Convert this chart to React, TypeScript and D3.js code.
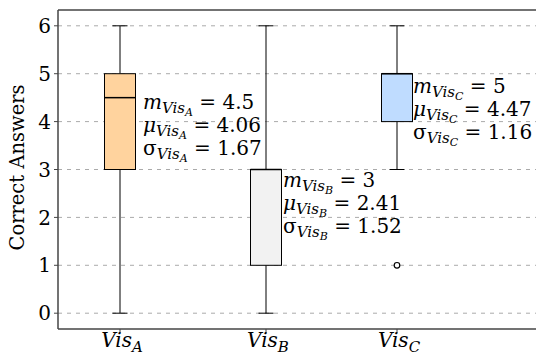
import React from "react";
import * as d3 from "d3";

const categories = ["A", "B", "C"];
const whiskerLow = [0, 0, 3];
const q1 = [3, 1, 4];
const medians = [4.5, 3, 5];
const q3 = [5, 3, 5];
const whiskerHigh = [6, 6, 6];
const means = [4.06, 2.41, 4.47];
const sds = [1.67, 1.52, 1.16];
const outliers: [string, number][] = [["C", 1]];
const fills = ["#ffd39e", "#f2f2f2", "#bfdcff"];
const yTicks = [0, 1, 2, 3, 4, 5, 6];
const annoY = [4.27, 2.63, 4.6];
const annoDx = [23, 17, 16];

const W = 536, H = 356;
const left = 58, top = 10, bottom = 329;
const FONT = "DejaVu Serif";

export default function App() {
  const y = d3.scaleLinear().domain([-0.33, 6.33]).range([bottom, top]);
  const x = d3.scaleOrdinal<string, number>().domain(categories).range([120, 266, 397]);
  const boxW = 31;
  const capW = 15;

  return (
    <svg width={W} height={H} fontFamily={FONT} style={{ position: "absolute", left: 0, top: 0, background: "#fff" }}>
      {yTicks.map((t) => (
        <line key={"g" + t} x1={left} x2={W} y1={y(t)} y2={y(t)} stroke="#aaa" strokeWidth={1} strokeDasharray="4,5" />
      ))}
      {categories.map((c, i) => {
        const cx = x(c);
        return (
          <g key={c}>
            <line x1={cx} x2={cx} y1={y(whiskerHigh[i])} y2={y(q3[i])} stroke="#000" strokeWidth={1} />
            <line x1={cx} x2={cx} y1={y(q1[i])} y2={y(whiskerLow[i])} stroke="#000" strokeWidth={1} />
            <line x1={cx - capW / 2} x2={cx + capW / 2} y1={y(whiskerHigh[i])} y2={y(whiskerHigh[i])} stroke="#000" strokeWidth={1} />
            <line x1={cx - capW / 2} x2={cx + capW / 2} y1={y(whiskerLow[i])} y2={y(whiskerLow[i])} stroke="#000" strokeWidth={1} />
            <rect x={cx - boxW / 2} y={y(q3[i])} width={boxW} height={y(q1[i]) - y(q3[i])} fill={fills[i]} stroke="#000" strokeWidth={1} />
            <line x1={cx - boxW / 2} x2={cx + boxW / 2} y1={y(medians[i])} y2={y(medians[i])} stroke="#000" strokeWidth={1.5} />
          </g>
        );
      })}
      {outliers.map(([c, v], i) => (
        <circle key={"o" + i} cx={x(c)} cy={y(v)} r={2.8} fill="#fff" stroke="#000" strokeWidth={1.2} />
      ))}
      {categories.map((c, i) => {
        const ax = x(c) + annoDx[i];
        const ay = y(annoY[i]);
        const rows: [string, boolean, string][] = [
          ["m", true, String(medians[i])],
          ["μ", true, means[i].toFixed(2)],
          ["σ", false, sds[i].toFixed(2)],
        ];
        return (
          <g key={"a" + c}>
            {rows.map(([sym, it, val], r) => (
              <text key={r} x={ax} y={ay + r * 23} fontSize={20} fill="#000">
                <tspan fontStyle={it ? "italic" : "normal"}>{sym}</tspan>
                <tspan fontStyle="italic" fontSize={15} dy={4}>Vis</tspan>
                <tspan fontStyle="italic" fontSize={11} dy={3}>{c}</tspan>
                <tspan dy={-7}>{" = " + val}</tspan>
              </text>
            ))}
          </g>
        );
      })}
      <line x1={left} x2={left} y1={top} y2={bottom} stroke="#444" strokeWidth={1.5} />
      <line x1={left} x2={W} y1={top} y2={top} stroke="#444" strokeWidth={1.5} />
      <line x1={left} x2={W} y1={bottom} y2={bottom} stroke="#444" strokeWidth={1.5} />
      {yTicks.map((t) => (
        <g key={"t" + t}>
          <line x1={left - 4} x2={left} y1={y(t)} y2={y(t)} stroke="#444" strokeWidth={1} />
          <text x={left - 7} y={y(t)} dy="0.36em" textAnchor="end" fontSize={20} fill="#000">{t}</text>
        </g>
      ))}
      {categories.map((c) => (
        <g key={"x" + c}>
          <line x1={x(c)} x2={x(c)} y1={bottom} y2={bottom + 4} stroke="#444" strokeWidth={1} />
          <text x={x(c) + 2} y={347} textAnchor="middle" fontSize={20} fill="#000">
            <tspan fontStyle="italic">Vis</tspan>
            <tspan fontStyle="italic" fontSize={15} dy={5}>{c}</tspan>
          </text>
        </g>
      ))}
      <text transform={`translate(24,${(top + bottom) / 2 - 2}) rotate(-90)`} textAnchor="middle" fontSize={19.5} fill="#000">Correct Answers</text>
    </svg>
  );
}
